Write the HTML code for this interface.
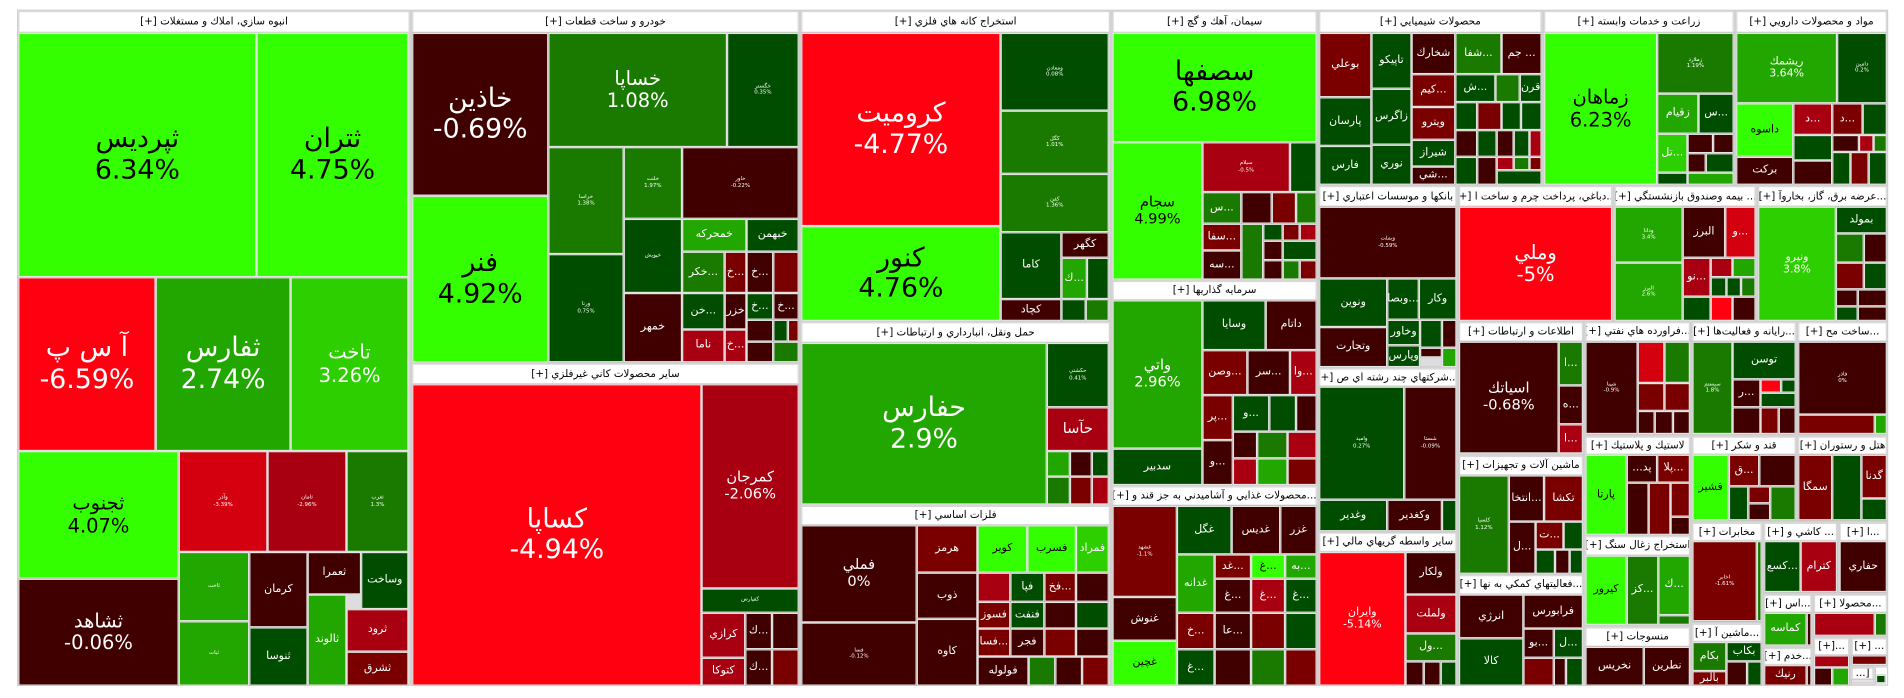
<!DOCTYPE html>
<html><head><meta charset="utf-8">
<style>
html,body{margin:0;padding:0;background:#fff;width:1904px;height:698px;overflow:hidden}
#w{position:absolute;left:0;top:0;width:1566px;height:574px;transform:scale(1.2158);transform-origin:0 0;font-family:"DejaVu Sans","Liberation Sans",sans-serif}
.s{position:absolute;background:#ddd;border:1px solid #d0d0d0;box-sizing:border-box}
.h{position:absolute;background:#fff;color:#000;font-size:8.5px;display:flex;align-items:center;justify-content:center;direction:rtl;white-space:nowrap;overflow:hidden;box-sizing:border-box;border:1px solid #d8d8d8}
.b{position:absolute;box-sizing:border-box;border:1px solid #e4e4e4;color:#fff;display:flex;align-items:center;justify-content:center;text-align:center;font-size:9px;line-height:1.15;overflow:hidden;direction:ltr}
.t{font-size:4.5px}
.L{font-size:22px}.M{font-size:16px}.N{font-size:12px}
.r0{background:#ff0010}.r1{background:#d40010}.r2{background:#a80010}.r3{background:#7a0000}.r4{background:#400000}
.g4{background:#004d00}.g3{background:#1a7a00}.g2{background:#22a600}.g1{background:#2ecf00}.g0{background:#33ff00;color:#000}
</style></head><body><div id="w">

<!-- Sector A -->
<div class="s" style="left:14px;top:8px;width:324px;height:556px"></div>
<div class="h" style="left:15px;top:9px;width:322px;height:18px">انبوه سازي، املاك و مستغلات [+]</div>
<div class="b g0 L" style="left:15px;top:27px;width:196px;height:201px">ثپرديس<br>6.34%</div>
<div class="b g0 L" style="left:211px;top:27px;width:125px;height:201px">ثتران<br>4.75%</div>
<div class="b r0 L" style="left:15px;top:228px;width:113px;height:143px">آ س پ<br>-6.59%</div>
<div class="b g2 L" style="left:128px;top:228px;width:111px;height:143px">ثفارس<br>2.74%</div>
<div class="b g1 M" style="left:239px;top:228px;width:97px;height:143px">تاخت<br>3.26%</div>
<div class="b g0 M" style="left:15px;top:371px;width:132px;height:105px">ثجنوب<br>4.07%</div>
<div class="b r4 M" style="left:15px;top:476px;width:132px;height:88px">ثشاهد<br>-0.06%</div>
<div class="b r1 t" style="left:147px;top:371px;width:73px;height:83px">وآذر<br>-3.39%</div>
<div class="b r2 t" style="left:220px;top:371px;width:65px;height:83px">ثامان<br>-2.96%</div>
<div class="b g3 t" style="left:285px;top:371px;width:51px;height:83px">ثغرب<br>1.3%</div>
<div class="b g2 t" style="left:147px;top:454px;width:58px;height:57px">ثاخت</div>
<div class="b g2 t" style="left:147px;top:511px;width:58px;height:53px">ثبات</div>
<div class="b r4" style="left:205px;top:454px;width:48px;height:62px">كرمان</div>
<div class="b g4" style="left:205px;top:516px;width:48px;height:48px">ثنوسا</div>
<div class="b r4" style="left:253px;top:454px;width:44px;height:35px">ثعمرا</div>
<div class="b g4" style="left:297px;top:454px;width:39px;height:47px">وساخت</div>
<div class="b g2" style="left:253px;top:489px;width:32px;height:75px">ثالوند</div>
<div class="b r2" style="left:285px;top:501px;width:51px;height:35px">ثرود</div>
<div class="b r3" style="left:285px;top:536px;width:51px;height:28px">ثشرق</div>

<!-- Sector B -->
<div class="s" style="left:338px;top:8px;width:320px;height:290px"></div>
<div class="h" style="left:339px;top:9px;width:318px;height:18px">خودرو و ساخت قطعات [+]</div>
<div class="b r4 L" style="left:339px;top:27px;width:112px;height:134px">خاذين<br>-0.69%</div>
<div class="b g0 L" style="left:339px;top:161px;width:112px;height:137px">فنر<br>4.92%</div>
<div class="b g3 M" style="left:451px;top:27px;width:147px;height:94px">خساپا<br>1.08%</div>
<div class="b g4 t" style="left:598px;top:27px;width:59px;height:94px">خگستر<br>0.35%</div>
<div class="b g3 t" style="left:451px;top:121px;width:62px;height:88px">خراسا<br>1.38%</div>
<div class="b g3 t" style="left:513px;top:121px;width:48px;height:59px">خلنت<br>1.97%</div>
<div class="b r4 t" style="left:561px;top:121px;width:96px;height:59px">خاور<br>-0.22%</div>
<div class="b g4 t" style="left:451px;top:209px;width:62px;height:89px">ورنا<br>0.75%</div>
<div class="b g4 t" style="left:513px;top:180px;width:48px;height:61px">خپويش</div>
<div class="b r4" style="left:513px;top:241px;width:48px;height:57px">خمهر</div>
<div class="b g2" style="left:561px;top:180px;width:53px;height:27px">خمحركه</div>
<div class="b g4" style="left:614px;top:180px;width:43px;height:27px">خبهمن</div>
<div class="b g3" style="left:561px;top:207px;width:35px;height:34px">خكر...</div>
<div class="b r3" style="left:596px;top:207px;width:18px;height:34px">خ...</div>
<div class="b r4" style="left:614px;top:207px;width:22px;height:34px">خ...</div>
<div class="b r3" style="left:636px;top:207px;width:21px;height:34px"></div>
<div class="b g4" style="left:561px;top:241px;width:35px;height:30px">خن...</div>
<div class="b r2" style="left:561px;top:271px;width:35px;height:27px">ناما</div>
<div class="b r4" style="left:596px;top:241px;width:18px;height:30px">خزر</div>
<div class="b r2" style="left:596px;top:271px;width:18px;height:27px">خ...</div>
<div class="b g4" style="left:614px;top:241px;width:22px;height:22px">خ...</div>
<div class="b r4" style="left:636px;top:241px;width:21px;height:22px">خ...</div>
<div class="b r4" style="left:614px;top:263px;width:22px;height:18px"></div>
<div class="b r4" style="left:614px;top:281px;width:22px;height:17px"></div>
<div class="b g4" style="left:636px;top:263px;width:12px;height:18px"></div>
<div class="b r3" style="left:648px;top:263px;width:9px;height:18px"></div>
<div class="b g3" style="left:636px;top:281px;width:21px;height:17px"></div>

<!-- Sector C -->
<div class="s" style="left:338px;top:298px;width:320px;height:266px"></div>
<div class="h" style="left:339px;top:299px;width:318px;height:17px">ساير محصولات كاني غيرفلزي [+]</div>
<div class="b r0 L" style="left:339px;top:316px;width:238px;height:248px">كساپا<br>-4.94%</div>
<div class="b r2 N" style="left:577px;top:316px;width:80px;height:168px">كمرجان<br>-2.06%</div>
<div class="b g4 t" style="left:577px;top:484px;width:80px;height:20px">كفپارس</div>
<div class="b r2" style="left:577px;top:504px;width:36px;height:37px">كرازي</div>
<div class="b r2" style="left:577px;top:541px;width:36px;height:23px">كتوكا</div>
<div class="b r4" style="left:613px;top:504px;width:22px;height:30px">ك...</div>
<div class="b r4" style="left:635px;top:504px;width:22px;height:30px"></div>
<div class="b r4" style="left:613px;top:534px;width:22px;height:30px">ك...</div>
<div class="b r3" style="left:635px;top:534px;width:22px;height:30px"></div>

<!-- Sector D -->
<div class="s" style="left:658px;top:8px;width:256px;height:256px"></div>
<div class="h" style="left:659px;top:9px;width:254px;height:18px">استخراج كانه هاي فلزي [+]</div>
<div class="b r0 L" style="left:659px;top:27px;width:164px;height:159px">كروميت<br>-4.77%</div>
<div class="b g0 L" style="left:659px;top:186px;width:164px;height:78px">كنور<br>4.76%</div>
<div class="b g4 t" style="left:823px;top:27px;width:89px;height:64px">ومعادن<br>0.08%</div>
<div class="b g3 t" style="left:823px;top:91px;width:89px;height:52px">كگل<br>1.01%</div>
<div class="b g3 t" style="left:823px;top:143px;width:89px;height:48px">كفن<br>1.36%</div>
<div class="b g4" style="left:823px;top:191px;width:50px;height:55px">كاما</div>
<div class="b r4" style="left:823px;top:246px;width:50px;height:18px">كچاد</div>
<div class="b r4" style="left:873px;top:191px;width:39px;height:21px">كگهر</div>
<div class="b g2" style="left:873px;top:212px;width:21px;height:34px">ك...</div>
<div class="b g4" style="left:894px;top:212px;width:18px;height:34px"></div>
<div class="b g4" style="left:873px;top:246px;width:20px;height:18px"></div>
<div class="b g3" style="left:893px;top:246px;width:19px;height:18px"></div>

<!-- Sector E -->
<div class="s" style="left:658px;top:264px;width:256px;height:151px"></div>
<div class="h" style="left:659px;top:265px;width:254px;height:17px">حمل ونقل، انبارداري و ارتباطات [+]</div>
<div class="b g2 L" style="left:659px;top:282px;width:202px;height:133px">حفارس<br>2.9%</div>
<div class="b g4 t" style="left:861px;top:282px;width:51px;height:53px">حكشتي<br>0.41%</div>
<div class="b r2 N" style="left:861px;top:335px;width:51px;height:36px">حآسا</div>
<div class="b g2" style="left:861px;top:371px;width:19px;height:21px"></div>
<div class="b r4" style="left:880px;top:371px;width:18px;height:21px"></div>
<div class="b g4" style="left:898px;top:371px;width:14px;height:21px"></div>
<div class="b g3" style="left:861px;top:392px;width:19px;height:23px"></div>
<div class="b r3" style="left:880px;top:392px;width:18px;height:23px"></div>
<div class="b r2" style="left:898px;top:392px;width:14px;height:23px"></div>

<!-- Sector F -->
<div class="s" style="left:658px;top:415px;width:256px;height:149px"></div>
<div class="h" style="left:659px;top:416px;width:254px;height:16px">فلزات اساسي [+]</div>
<div class="b r4 N" style="left:659px;top:432px;width:95px;height:80px">فملي<br>0%</div>
<div class="b r4 t" style="left:659px;top:512px;width:95px;height:52px">فسا<br>-0.12%</div>
<div class="b r3" style="left:754px;top:432px;width:50px;height:39px">هرمز</div>
<div class="b r4" style="left:754px;top:471px;width:50px;height:38px">ذوب</div>
<div class="b r4" style="left:754px;top:509px;width:50px;height:55px">كاوه</div>
<div class="b g0" style="left:804px;top:432px;width:41px;height:39px">كوير</div>
<div class="b g0" style="left:845px;top:432px;width:40px;height:39px">فسرب</div>
<div class="b g1" style="left:885px;top:432px;width:27px;height:39px">فمراد</div>
<div class="b r2" style="left:804px;top:471px;width:27px;height:24px"></div>
<div class="b g4" style="left:831px;top:471px;width:28px;height:24px">فپا</div>
<div class="b r3" style="left:859px;top:471px;width:26px;height:24px">فخ...</div>
<div class="b r4" style="left:885px;top:471px;width:27px;height:24px"></div>
<div class="b r3" style="left:804px;top:495px;width:27px;height:22px">فسوز</div>
<div class="b g4" style="left:831px;top:495px;width:28px;height:22px">فنفت</div>
<div class="b r4" style="left:859px;top:495px;width:26px;height:22px"></div>
<div class="b g4" style="left:885px;top:495px;width:27px;height:22px"></div>
<div class="b r3" style="left:804px;top:517px;width:27px;height:23px">فسا...</div>
<div class="b r4" style="left:831px;top:517px;width:28px;height:23px">فجر</div>
<div class="b r3" style="left:859px;top:517px;width:26px;height:23px"></div>
<div class="b r4" style="left:885px;top:517px;width:27px;height:23px"></div>
<div class="b r4" style="left:804px;top:540px;width:42px;height:24px">فولوله</div>
<div class="b g3" style="left:846px;top:540px;width:22px;height:24px"></div>
<div class="b r4" style="left:868px;top:540px;width:22px;height:24px"></div>
<div class="b r3" style="left:890px;top:540px;width:22px;height:24px"></div>

<!-- Sector G -->
<div class="s" style="left:914px;top:8px;width:170px;height:222px"></div>
<div class="h" style="left:915px;top:9px;width:168px;height:18px">سيمان، آهك و گچ [+]</div>
<div class="b g0 L" style="left:915px;top:27px;width:168px;height:90px">سصفها<br>6.98%</div>
<div class="b g0 N" style="left:915px;top:117px;width:74px;height:113px">سجام<br>4.99%</div>
<div class="b r2 t" style="left:989px;top:117px;width:72px;height:41px">سيلام<br>-0.5%</div>
<div class="b g4" style="left:1061px;top:117px;width:22px;height:41px"></div>
<div class="b g3" style="left:989px;top:158px;width:32px;height:26px">س...</div>
<div class="b r4" style="left:1021px;top:158px;width:25px;height:26px"></div>
<div class="b r3" style="left:1046px;top:158px;width:20px;height:26px"></div>
<div class="b g3" style="left:1066px;top:158px;width:17px;height:26px"></div>
<div class="b r3" style="left:989px;top:184px;width:32px;height:22px">سفا...</div>
<div class="b r4" style="left:989px;top:206px;width:32px;height:24px">سه...</div>
<div class="b g3" style="left:1021px;top:184px;width:18px;height:46px"></div>
<div class="b g4" style="left:1039px;top:184px;width:16px;height:14px"></div>
<div class="b r3" style="left:1055px;top:184px;width:14px;height:14px"></div>
<div class="b r2" style="left:1069px;top:184px;width:14px;height:14px"></div>
<div class="b r4" style="left:1039px;top:198px;width:16px;height:16px"></div>
<div class="b g4" style="left:1055px;top:198px;width:28px;height:16px"></div>
<div class="b r4" style="left:1039px;top:214px;width:16px;height:16px"></div>
<div class="b g3" style="left:1055px;top:214px;width:14px;height:16px"></div>
<div class="b r3" style="left:1069px;top:214px;width:14px;height:16px"></div>

<!-- Sector H -->
<div class="s" style="left:914px;top:230px;width:170px;height:169px"></div>
<div class="h" style="left:915px;top:231px;width:168px;height:16px">سرمايه گذاريها [+]</div>
<div class="b g2 N" style="left:915px;top:247px;width:74px;height:122px">واتي<br>2.96%</div>
<div class="b g4" style="left:915px;top:369px;width:74px;height:30px">سدبير</div>
<div class="b g4" style="left:989px;top:247px;width:52px;height:41px">وسايا</div>
<div class="b r4" style="left:1041px;top:247px;width:42px;height:41px">داتام</div>
<div class="b r3" style="left:989px;top:288px;width:37px;height:37px">وصن...</div>
<div class="b r4" style="left:1026px;top:288px;width:35px;height:37px">سر...</div>
<div class="b r2" style="left:1061px;top:288px;width:22px;height:37px">وا...</div>
<div class="b r3" style="left:989px;top:325px;width:25px;height:37px">پر...</div>
<div class="b g4" style="left:1014px;top:325px;width:30px;height:30px">و...</div>
<div class="b g4" style="left:1044px;top:325px;width:22px;height:30px"></div>
<div class="b r4" style="left:1066px;top:325px;width:17px;height:30px"></div>
<div class="b r4" style="left:989px;top:362px;width:25px;height:37px">و...</div>
<div class="b r4" style="left:1014px;top:355px;width:20px;height:22px"></div>
<div class="b g3" style="left:1034px;top:355px;width:25px;height:22px"></div>
<div class="b r2" style="left:1059px;top:355px;width:24px;height:22px"></div>
<div class="b r2" style="left:1014px;top:377px;width:20px;height:22px"></div>
<div class="b g2" style="left:1034px;top:377px;width:25px;height:22px"></div>
<div class="b r3" style="left:1059px;top:377px;width:24px;height:22px"></div>

<!-- Sector I -->
<div class="s" style="left:914px;top:399px;width:170px;height:165px"></div>
<div class="h" style="left:915px;top:400px;width:168px;height:16px">...محصولات غذايي و آشاميدني به جز قند و [+]</div>
<div class="b r3 t" style="left:915px;top:416px;width:53px;height:75px">غشهد<br>-1.1%</div>
<div class="b r4" style="left:915px;top:491px;width:53px;height:36px">غنوش</div>
<div class="b g0" style="left:915px;top:527px;width:53px;height:37px">غچين</div>
<div class="b g4" style="left:968px;top:416px;width:45px;height:40px">غگل</div>
<div class="b r4" style="left:1013px;top:416px;width:40px;height:40px">غديس</div>
<div class="b r4" style="left:1053px;top:416px;width:30px;height:40px">غزر</div>
<div class="b g2" style="left:968px;top:456px;width:31px;height:48px">غدانه</div>
<div class="b r3" style="left:999px;top:456px;width:30px;height:20px">غد...</div>
<div class="b g0" style="left:1029px;top:456px;width:28px;height:20px">غ...</div>
<div class="b g2" style="left:1057px;top:456px;width:26px;height:20px">به...</div>
<div class="b r4" style="left:999px;top:476px;width:30px;height:28px">غ...</div>
<div class="b r2" style="left:1029px;top:476px;width:28px;height:28px">غ...</div>
<div class="b g4" style="left:1057px;top:476px;width:26px;height:28px">غ...</div>
<div class="b r3" style="left:968px;top:504px;width:31px;height:30px">خ...</div>
<div class="b r4" style="left:999px;top:504px;width:30px;height:30px">عا...</div>
<div class="b r3" style="left:1029px;top:504px;width:28px;height:30px"></div>
<div class="b g4" style="left:1057px;top:504px;width:26px;height:30px"></div>
<div class="b g4" style="left:968px;top:534px;width:31px;height:30px">غ...</div>
<div class="b r4" style="left:999px;top:534px;width:30px;height:30px"></div>
<div class="b g3" style="left:1029px;top:534px;width:28px;height:30px"></div>
<div class="b r3" style="left:1057px;top:534px;width:26px;height:30px"></div>

<!-- Sector J chemicals -->
<div class="s" style="left:1084px;top:8px;width:185px;height:144px"></div>
<div class="h" style="left:1085px;top:9px;width:183px;height:18px">محصولات شيميايي [+]</div>
<div class="b r3" style="left:1085px;top:27px;width:43px;height:53px">بوعلي</div>
<div class="b g4" style="left:1085px;top:80px;width:43px;height:40px">پارسان</div>
<div class="b g4" style="left:1085px;top:120px;width:43px;height:32px">فارس</div>
<div class="b g4" style="left:1128px;top:27px;width:33px;height:46px">تاپيكو</div>
<div class="b g4" style="left:1128px;top:73px;width:33px;height:46px">زاگرس</div>
<div class="b g4" style="left:1128px;top:119px;width:33px;height:33px">نوري</div>
<div class="b r4" style="left:1161px;top:27px;width:36px;height:34px">شخارك</div>
<div class="b r3" style="left:1161px;top:61px;width:36px;height:27px">كيم...</div>
<div class="b r3" style="left:1161px;top:88px;width:36px;height:27px">ويترو</div>
<div class="b g4" style="left:1161px;top:115px;width:36px;height:22px">شيراز</div>
<div class="b r4" style="left:1161px;top:137px;width:36px;height:15px">شي...</div>
<div class="b g3" style="left:1197px;top:27px;width:38px;height:34px">شفا...</div>
<div class="b r4" style="left:1235px;top:27px;width:33px;height:34px">جم ...</div>
<div class="b g4" style="left:1197px;top:61px;width:33px;height:23px">ش...</div>
<div class="b g3" style="left:1230px;top:61px;width:20px;height:23px"></div>
<div class="b g4" style="left:1250px;top:61px;width:18px;height:23px">قرن</div>
<div class="b g4" style="left:1197px;top:84px;width:18px;height:23px"></div>
<div class="b r3" style="left:1215px;top:84px;width:20px;height:23px"></div>
<div class="b g4" style="left:1235px;top:84px;width:16px;height:23px"></div>
<div class="b g4" style="left:1251px;top:84px;width:17px;height:23px"></div>
<div class="b r4" style="left:1197px;top:107px;width:18px;height:22px"></div>
<div class="b g4" style="left:1215px;top:107px;width:16px;height:22px"></div>
<div class="b r4" style="left:1231px;top:107px;width:14px;height:22px"></div>
<div class="b g4" style="left:1245px;top:107px;width:13px;height:22px"></div>
<div class="b r2" style="left:1258px;top:107px;width:10px;height:22px"></div>
<div class="b g4" style="left:1197px;top:129px;width:18px;height:23px"></div>
<div class="b r4" style="left:1215px;top:129px;width:16px;height:23px"></div>
<div class="b r2" style="left:1231px;top:129px;width:14px;height:11px"></div>
<div class="b g3" style="left:1245px;top:129px;width:13px;height:11px"></div>
<div class="b r3" style="left:1258px;top:129px;width:10px;height:11px"></div>
<div class="b g4" style="left:1231px;top:140px;width:37px;height:12px"></div>

<!-- Sector K -->
<div class="s" style="left:1269px;top:8px;width:158px;height:144px"></div>
<div class="h" style="left:1270px;top:9px;width:156px;height:18px">زراعت و خدمات وابسته [+]</div>
<div class="b g0 M" style="left:1270px;top:27px;width:93px;height:125px">زماهان<br>6.23%</div>
<div class="b g3 t" style="left:1363px;top:27px;width:63px;height:50px">زملارد<br>1.19%</div>
<div class="b g2" style="left:1363px;top:77px;width:34px;height:33px">زقيام</div>
<div class="b g4" style="left:1397px;top:77px;width:29px;height:33px">س...</div>
<div class="b g1" style="left:1363px;top:110px;width:25px;height:32px">تل...</div>
<div class="b r4" style="left:1388px;top:110px;width:21px;height:16px"></div>
<div class="b r4" style="left:1409px;top:110px;width:17px;height:16px"></div>
<div class="b r4" style="left:1388px;top:126px;width:15px;height:16px"></div>
<div class="b g4" style="left:1403px;top:126px;width:23px;height:16px"></div>
<div class="b g4" style="left:1363px;top:142px;width:25px;height:10px"></div>
<div class="b g2" style="left:1388px;top:142px;width:38px;height:10px"></div>

<!-- Sector L -->
<div class="s" style="left:1427px;top:8px;width:126px;height:144px"></div>
<div class="h" style="left:1428px;top:9px;width:124px;height:18px">مواد و محصولات دارويي [+]</div>
<div class="b g2" style="left:1428px;top:27px;width:83px;height:58px">ريشمك<br>3.64%</div>
<div class="b g4 t" style="left:1511px;top:27px;width:41px;height:58px">دامين<br>0.2%</div>
<div class="b g0" style="left:1428px;top:85px;width:47px;height:44px">داسوه</div>
<div class="b r4" style="left:1428px;top:129px;width:47px;height:23px">بركت</div>
<div class="b r2" style="left:1475px;top:85px;width:32px;height:26px">د...</div>
<div class="b r3" style="left:1507px;top:85px;width:25px;height:26px">د...</div>
<div class="b g4" style="left:1532px;top:85px;width:20px;height:26px"></div>
<div class="b g4" style="left:1475px;top:111px;width:32px;height:21px"></div>
<div class="b r4" style="left:1475px;top:132px;width:32px;height:20px"></div>
<div class="b r4" style="left:1507px;top:111px;width:22px;height:14px"></div>
<div class="b r2" style="left:1529px;top:111px;width:12px;height:14px"></div>
<div class="b g3" style="left:1541px;top:111px;width:11px;height:14px"></div>
<div class="b g4" style="left:1507px;top:125px;width:15px;height:27px"></div>
<div class="b r3" style="left:1522px;top:125px;width:15px;height:27px"></div>
<div class="b g4" style="left:1537px;top:125px;width:15px;height:27px"></div>

<!-- Sector M banks -->
<div class="s" style="left:1084px;top:152px;width:115px;height:150px"></div>
<div class="h" style="left:1085px;top:153px;width:113px;height:17px">بانكها و موسسات اعتباري [+]</div>
<div class="b r4 t" style="left:1085px;top:170px;width:113px;height:59px">وبملت<br>-0.59%</div>
<div class="b g4" style="left:1085px;top:229px;width:56px;height:40px">ونوين</div>
<div class="b r4" style="left:1085px;top:269px;width:56px;height:33px">وتجارت</div>
<div class="b g4" style="left:1141px;top:229px;width:26px;height:34px">وبصا...</div>
<div class="b g4" style="left:1167px;top:229px;width:31px;height:34px">وكار</div>
<div class="b g4" style="left:1141px;top:263px;width:27px;height:21px">وخاور</div>
<div class="b g4" style="left:1141px;top:284px;width:27px;height:18px">وپارس</div>
<div class="b g4" style="left:1168px;top:263px;width:18px;height:23px"></div>
<div class="b r4" style="left:1186px;top:263px;width:12px;height:23px"></div>
<div class="b r4" style="left:1168px;top:286px;width:18px;height:8px"></div>
<div class="b g2" style="left:1186px;top:286px;width:12px;height:16px"></div>

<!-- Sector N -->
<div class="s" style="left:1199px;top:152px;width:128px;height:112px"></div>
<div class="h" style="left:1200px;top:153px;width:126px;height:17px">...دباغي، پرداخت چرم و ساخت ا [+]</div>
<div class="b r0 M" style="left:1200px;top:170px;width:126px;height:94px">وملي<br>-5%</div>

<!-- Sector O -->
<div class="s" style="left:1327px;top:152px;width:118px;height:112px"></div>
<div class="h" style="left:1328px;top:153px;width:116px;height:17px">... بيمه وصندوق بازنشستگي [+]</div>
<div class="b g2 t" style="left:1328px;top:170px;width:56px;height:46px">ودانا<br>3.4%</div>
<div class="b g2 t" style="left:1328px;top:216px;width:56px;height:48px">البرز<br>2.6%</div>
<div class="b r4" style="left:1384px;top:170px;width:35px;height:42px">البرز</div>
<div class="b r1" style="left:1419px;top:170px;width:25px;height:42px">و...</div>
<div class="b r2" style="left:1384px;top:212px;width:23px;height:32px">نو...</div>
<div class="b r2" style="left:1407px;top:212px;width:18px;height:16px"></div>
<div class="b g2" style="left:1425px;top:212px;width:19px;height:16px"></div>
<div class="b g4" style="left:1407px;top:228px;width:13px;height:16px"></div>
<div class="b g4" style="left:1420px;top:228px;width:12px;height:16px"></div>
<div class="b g3" style="left:1432px;top:228px;width:12px;height:16px"></div>
<div class="b g4" style="left:1384px;top:244px;width:23px;height:20px"></div>
<div class="b r0" style="left:1407px;top:244px;width:18px;height:20px"></div>
<div class="b r4" style="left:1425px;top:244px;width:19px;height:20px"></div>

<!-- Sector P -->
<div class="s" style="left:1445px;top:152px;width:108px;height:112px"></div>
<div class="h" style="left:1446px;top:153px;width:106px;height:17px">...عرضه برق، گاز، بخاروآ [+]</div>
<div class="b g1" style="left:1446px;top:170px;width:64px;height:94px">ونيرو<br>3.8%</div>
<div class="b g4" style="left:1510px;top:170px;width:42px;height:22px">بمولد</div>
<div class="b g3" style="left:1510px;top:192px;width:23px;height:24px"></div>
<div class="b r4" style="left:1533px;top:192px;width:19px;height:24px"></div>
<div class="b r3" style="left:1510px;top:216px;width:23px;height:22px"></div>
<div class="b g4" style="left:1533px;top:216px;width:19px;height:22px"></div>
<div class="b r4" style="left:1510px;top:238px;width:18px;height:14px"></div>
<div class="b r4" style="left:1528px;top:238px;width:24px;height:14px"></div>
<div class="b g4" style="left:1510px;top:252px;width:18px;height:12px"></div>
<div class="b r4" style="left:1528px;top:252px;width:24px;height:12px"></div>

<!-- Sector Q -->
<div class="s" style="left:1199px;top:264px;width:104px;height:110px"></div>
<div class="h" style="left:1200px;top:265px;width:102px;height:16px">اطلاعات و ارتباطات [+]</div>
<div class="b r4 N" style="left:1200px;top:281px;width:82px;height:92px">اسياتك<br>-0.68%</div>
<div class="b g3" style="left:1282px;top:281px;width:20px;height:36px">ا...</div>
<div class="b r4" style="left:1282px;top:317px;width:20px;height:32px">ه...</div>
<div class="b r2" style="left:1282px;top:349px;width:20px;height:24px">ا...</div>

<!-- Sector R -->
<div class="s" style="left:1303px;top:264px;width:88px;height:94px"></div>
<div class="h" style="left:1304px;top:265px;width:86px;height:16px">...فراورده هاي نفتي [+]</div>
<div class="b r4 t" style="left:1304px;top:281px;width:43px;height:76px">شپنا<br>-0.9%</div>
<div class="b r1" style="left:1347px;top:281px;width:22px;height:34px"></div>
<div class="b g3" style="left:1369px;top:281px;width:21px;height:34px"></div>
<div class="b r3" style="left:1347px;top:315px;width:22px;height:23px"></div>
<div class="b r3" style="left:1369px;top:315px;width:21px;height:23px"></div>
<div class="b r4" style="left:1347px;top:338px;width:14px;height:19px"></div>
<div class="b r4" style="left:1361px;top:338px;width:15px;height:19px"></div>
<div class="b r4" style="left:1376px;top:338px;width:14px;height:19px"></div>

<!-- Sector S -->
<div class="s" style="left:1391px;top:264px;width:87px;height:94px"></div>
<div class="h" style="left:1392px;top:265px;width:85px;height:16px">...رايانه و فعاليت‌ها [+]</div>
<div class="b g3 t" style="left:1392px;top:281px;width:33px;height:76px">سيستم<br>1.8%</div>
<div class="b g4" style="left:1425px;top:281px;width:52px;height:31px">توسن</div>
<div class="b r4" style="left:1425px;top:312px;width:23px;height:23px">ر...</div>
<div class="b r0" style="left:1448px;top:312px;width:17px;height:11px"></div>
<div class="b g4" style="left:1465px;top:312px;width:12px;height:11px"></div>
<div class="b g4" style="left:1448px;top:323px;width:29px;height:12px"></div>
<div class="b r4" style="left:1425px;top:335px;width:23px;height:22px"></div>
<div class="b r3" style="left:1448px;top:335px;width:15px;height:22px"></div>
<div class="b r4" style="left:1463px;top:335px;width:14px;height:22px"></div>

<!-- Sector T -->
<div class="s" style="left:1478px;top:264px;width:75px;height:94px"></div>
<div class="h" style="left:1479px;top:265px;width:73px;height:16px">...ساخت مح [+]</div>
<div class="b r4 t" style="left:1479px;top:281px;width:73px;height:60px">فاذر<br>0%</div>
<div class="b r3" style="left:1479px;top:341px;width:63px;height:16px"></div>
<div class="b g2" style="left:1542px;top:341px;width:10px;height:16px"></div>

<!-- Sector U -->
<div class="s" style="left:1084px;top:302px;width:115px;height:135px"></div>
<div class="h" style="left:1085px;top:303px;width:113px;height:15px">...شركتهاي چند رشته اي ص [+]</div>
<div class="b g4 t" style="left:1085px;top:318px;width:70px;height:93px">واميد<br>0.27%</div>
<div class="b r4 t" style="left:1155px;top:318px;width:43px;height:93px">شستا<br>-0.09%</div>
<div class="b g4" style="left:1085px;top:411px;width:56px;height:26px">وغدير</div>
<div class="b r4" style="left:1141px;top:411px;width:45px;height:26px">وكغدير</div>
<div class="b g4" style="left:1186px;top:411px;width:12px;height:26px"></div>

<!-- Sector V -->
<div class="s" style="left:1084px;top:437px;width:115px;height:127px"></div>
<div class="h" style="left:1085px;top:438px;width:113px;height:16px">ساير واسطه گريهاي مالي [+]</div>
<div class="b r0" style="left:1085px;top:454px;width:71px;height:110px">وايران<br>-5.14%</div>
<div class="b r4" style="left:1156px;top:454px;width:42px;height:35px">ولكار</div>
<div class="b r2" style="left:1156px;top:489px;width:42px;height:32px">ولملت</div>
<div class="b g3" style="left:1156px;top:521px;width:42px;height:23px">ول...</div>
<div class="b r4" style="left:1156px;top:544px;width:15px;height:20px"></div>
<div class="b r4" style="left:1171px;top:544px;width:14px;height:20px"></div>
<div class="b g4" style="left:1185px;top:544px;width:13px;height:20px"></div>

<!-- Sector W -->
<div class="s" style="left:1199px;top:374px;width:104px;height:98px"></div>
<div class="h" style="left:1200px;top:375px;width:102px;height:16px">ماشين آلات و تجهيزات [+]</div>
<div class="b g3 t" style="left:1200px;top:391px;width:41px;height:81px">كلسيا<br>1.12%</div>
<div class="b r4" style="left:1241px;top:391px;width:29px;height:38px">انتخا...</div>
<div class="b r3" style="left:1270px;top:391px;width:32px;height:38px">تكشا</div>
<div class="b r4" style="left:1241px;top:429px;width:22px;height:43px">ل...</div>
<div class="b r3" style="left:1263px;top:429px;width:23px;height:23px">ت...</div>
<div class="b g4" style="left:1286px;top:429px;width:16px;height:23px"></div>
<div class="b g4" style="left:1263px;top:452px;width:16px;height:20px"></div>
<div class="b r4" style="left:1279px;top:452px;width:12px;height:20px"></div>
<div class="b g4" style="left:1291px;top:452px;width:11px;height:20px"></div>

<!-- Sector X -->
<div class="s" style="left:1199px;top:472px;width:104px;height:92px"></div>
<div class="h" style="left:1200px;top:473px;width:102px;height:16px">...فعاليتهاي كمكي به نها [+]</div>
<div class="b r4" style="left:1200px;top:489px;width:53px;height:36px">انرژي</div>
<div class="b g4" style="left:1200px;top:525px;width:53px;height:39px">كالا</div>
<div class="b r4" style="left:1253px;top:489px;width:49px;height:28px">فرابورس</div>
<div class="b r4" style="left:1253px;top:517px;width:25px;height:24px">بو...</div>
<div class="b g4" style="left:1278px;top:517px;width:24px;height:24px">ل...</div>
<div class="b r3" style="left:1253px;top:541px;width:25px;height:23px"></div>
<div class="b r4" style="left:1278px;top:541px;width:10px;height:23px"></div>
<div class="b g4" style="left:1288px;top:541px;width:14px;height:23px"></div>

<!-- Sector Y -->
<div class="s" style="left:1303px;top:358px;width:88px;height:82px"></div>
<div class="h" style="left:1304px;top:359px;width:86px;height:15px">لاستيك و پلاستيك [+]</div>
<div class="b g0" style="left:1304px;top:374px;width:34px;height:66px">پارتا</div>
<div class="b r4" style="left:1338px;top:374px;width:25px;height:23px">...پد</div>
<div class="b r3" style="left:1363px;top:374px;width:27px;height:23px">پلا...</div>
<div class="b r4" style="left:1338px;top:397px;width:18px;height:43px"></div>
<div class="b r3" style="left:1356px;top:397px;width:18px;height:43px"></div>
<div class="b r3" style="left:1374px;top:397px;width:16px;height:28px"></div>
<div class="b r4" style="left:1374px;top:425px;width:16px;height:15px"></div>

<!-- Sector Z -->
<div class="s" style="left:1303px;top:440px;width:88px;height:75px"></div>
<div class="h" style="left:1304px;top:441px;width:86px;height:16px">استخراج زغال سنگ [+]</div>
<div class="b g0" style="left:1304px;top:457px;width:34px;height:57px">كيرور</div>
<div class="b g3" style="left:1338px;top:457px;width:26px;height:57px">كز...</div>
<div class="b g2" style="left:1364px;top:457px;width:26px;height:49px">ك...</div>
<div class="b g3" style="left:1364px;top:506px;width:26px;height:8px"></div>

<!-- Sector AA -->
<div class="s" style="left:1303px;top:515px;width:88px;height:49px"></div>
<div class="h" style="left:1304px;top:516px;width:86px;height:16px">منسوجات [+]</div>
<div class="b r4" style="left:1304px;top:532px;width:48px;height:32px">نخريس</div>
<div class="b r4" style="left:1352px;top:532px;width:38px;height:32px">نطرين</div>

<!-- Sector AB -->
<div class="s" style="left:1391px;top:358px;width:87px;height:71px"></div>
<div class="h" style="left:1392px;top:359px;width:85px;height:15px">قند و شكر [+]</div>
<div class="b g0" style="left:1392px;top:374px;width:30px;height:54px">قشير</div>
<div class="b r3" style="left:1422px;top:374px;width:25px;height:26px">ق...</div>
<div class="b r4" style="left:1447px;top:374px;width:30px;height:26px"></div>
<div class="b g4" style="left:1422px;top:400px;width:16px;height:28px"></div>
<div class="b r3" style="left:1438px;top:400px;width:18px;height:14px"></div>
<div class="b r4" style="left:1438px;top:414px;width:18px;height:14px"></div>
<div class="b g3" style="left:1456px;top:400px;width:21px;height:28px"></div>

<!-- Sector AC -->
<div class="s" style="left:1478px;top:358px;width:75px;height:71px"></div>
<div class="h" style="left:1479px;top:359px;width:73px;height:15px">هتل و رستوران [+]</div>
<div class="b r3" style="left:1479px;top:374px;width:28px;height:54px">سمگا</div>
<div class="b g4" style="left:1507px;top:374px;width:24px;height:54px"></div>
<div class="b r3" style="left:1531px;top:374px;width:21px;height:36px">گدنا</div>
<div class="b g4" style="left:1531px;top:410px;width:21px;height:18px"></div>

<!-- Sector AD -->
<div class="s" style="left:1391px;top:429px;width:59px;height:83px"></div>
<div class="h" style="left:1392px;top:430px;width:57px;height:15px">مخابرات [+]</div>
<div class="b r3 t" style="left:1392px;top:445px;width:53px;height:66px">اخابر<br>-1.61%</div>
<div class="b g3" style="left:1445px;top:445px;width:4px;height:66px"></div>

<!-- Sector AE -->
<div class="s" style="left:1450px;top:429px;width:62px;height:59px"></div>
<div class="h" style="left:1451px;top:430px;width:60px;height:15px">... كاشي و [+]</div>
<div class="b g4" style="left:1451px;top:445px;width:30px;height:42px">كسع...</div>
<div class="b r2" style="left:1481px;top:445px;width:30px;height:42px">كترام</div>

<!-- Sector AF -->
<div class="s" style="left:1512px;top:429px;width:41px;height:59px"></div>
<div class="h" style="left:1513px;top:430px;width:39px;height:15px">...ا [+]</div>
<div class="b r4" style="left:1513px;top:445px;width:39px;height:42px">حفاري</div>

<!-- Sector AG -->
<div class="s" style="left:1391px;top:512px;width:59px;height:52px"></div>
<div class="h" style="left:1392px;top:513px;width:57px;height:15px">...ماشين آ [+]</div>
<div class="b g3" style="left:1392px;top:528px;width:28px;height:24px">بكام</div>
<div class="b r3" style="left:1392px;top:552px;width:28px;height:12px">بالبر</div>
<div class="b g4" style="left:1420px;top:528px;width:29px;height:16px">بكاب</div>
<div class="b r4" style="left:1420px;top:544px;width:17px;height:20px"></div>
<div class="b g4" style="left:1437px;top:544px;width:12px;height:20px"></div>

<!-- Sector AH -->
<div class="s" style="left:1450px;top:488px;width:41px;height:44px"></div>
<div class="h" style="left:1451px;top:489px;width:39px;height:15px">...اس [+]</div>
<div class="b g2" style="left:1451px;top:504px;width:35px;height:27px">كماسه</div>
<div class="b r4" style="left:1486px;top:504px;width:4px;height:27px"></div>

<!-- Sector AI -->
<div class="s" style="left:1491px;top:488px;width:62px;height:36px"></div>
<div class="h" style="left:1492px;top:489px;width:60px;height:15px">...محصولا [+]</div>
<div class="b r2" style="left:1492px;top:504px;width:50px;height:19px"></div>
<div class="b g3" style="left:1542px;top:504px;width:10px;height:19px"></div>

<!-- Sector AJ -->
<div class="s" style="left:1450px;top:532px;width:41px;height:32px"></div>
<div class="h" style="left:1451px;top:533px;width:39px;height:14px">...خدم [+]</div>
<div class="b r3" style="left:1451px;top:547px;width:35px;height:17px">رنيك</div>
<div class="b r4" style="left:1486px;top:547px;width:4px;height:17px"></div>

<!-- tiny sectors -->
<div class="s" style="left:1491px;top:524px;width:31px;height:40px"></div>
<div class="h" style="left:1492px;top:525px;width:29px;height:14px">...[+]</div>
<div class="b r2" style="left:1492px;top:539px;width:29px;height:10px"></div>
<div class="b r4" style="left:1492px;top:549px;width:15px;height:15px"></div>
<div class="b g2" style="left:1507px;top:549px;width:14px;height:15px"></div>
<div class="s" style="left:1522px;top:524px;width:31px;height:24px"></div>
<div class="h" style="left:1523px;top:525px;width:29px;height:14px">... [+]</div>
<div class="b r3" style="left:1523px;top:539px;width:29px;height:8px"></div>
<div class="s" style="left:1522px;top:548px;width:20px;height:16px"></div>
<div class="h" style="left:1523px;top:549px;width:18px;height:10px">[...</div>
<div class="b r2" style="left:1523px;top:559px;width:18px;height:2px"></div>
<div class="s" style="left:1542px;top:548px;width:11px;height:16px;background:#fff"></div>
<div class="b g4" style="left:1543px;top:555px;width:8px;height:7px"></div>

</div></body></html>
